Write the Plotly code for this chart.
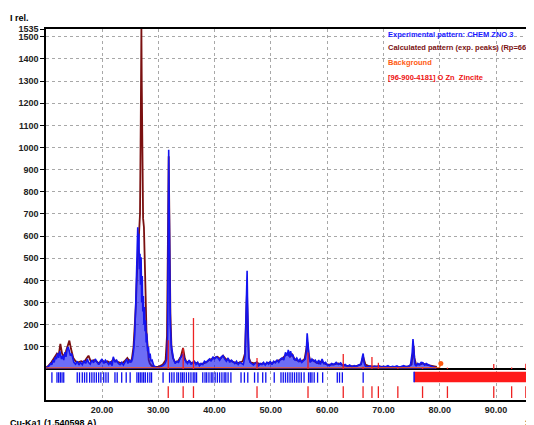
import plotly.graph_objects as go

# ---------------- data ----------------
exp_x = [10.0, 10.3, 10.6, 10.9, 11.1, 11.3, 11.5, 11.7, 11.9, 12.1, 12.3, 12.5, 12.6, 12.8, 13.0, 13.2,
         13.4, 13.6, 13.8, 14.0, 14.2, 14.4, 14.6, 14.8, 15.0, 15.3, 15.6, 15.9, 16.2, 16.5, 16.8,
         17.1, 17.4, 17.6, 17.9, 18.2, 18.5, 18.8, 19.1, 19.4, 19.7, 20.0, 20.3, 20.6, 20.9, 21.2,
         21.5, 21.8, 22.0, 22.3, 22.6, 22.9, 23.2, 23.5, 23.8, 24.1, 24.4, 24.6, 24.9, 25.2, 25.4,
         25.6, 25.8, 26.0, 26.1, 26.2, 26.3, 26.35, 26.45, 26.55, 26.65, 26.75, 26.85, 26.95, 27.05,
         27.15, 27.25, 27.35, 27.45, 27.55, 27.65, 27.75, 27.85, 27.95, 28.1, 28.25, 28.4, 28.55,
         28.7, 28.9, 29.2, 29.6, 30.0, 30.4, 30.8, 31.2, 31.5, 31.65, 31.75, 31.85, 31.95, 32.05,
         32.15, 32.3, 32.5, 32.7, 33.0, 33.3, 33.6, 33.9, 34.2, 34.4, 34.6, 34.9, 35.2, 35.5, 35.8,
         36.1, 36.4, 36.7, 37.0, 37.3, 37.6, 37.9, 38.2, 38.5, 38.8, 39.1, 39.4, 39.7, 40.0, 40.3,
         40.6, 40.9, 41.2, 41.5, 41.8, 42.1, 42.4, 42.7, 43.0, 43.3, 43.6, 43.9, 44.2, 44.5, 44.8,
         45.1, 45.4, 45.6, 45.7, 45.78, 45.86, 45.95, 46.1, 46.3, 46.6, 46.9, 47.2, 47.5, 47.8,
         48.1, 48.4, 48.7, 49.0, 49.3, 49.6, 49.9, 50.2, 50.5, 50.8, 51.1, 51.4, 51.7, 52.0, 52.3,
         52.6, 52.9, 53.1, 53.3, 53.5, 53.7, 53.9, 54.1, 54.3, 54.6, 54.9, 55.2, 55.5, 55.8, 56.1,
         56.3, 56.45, 56.55, 56.65, 56.8, 57.0, 57.3, 57.6, 57.9, 58.2, 58.5, 58.8, 59.1, 59.4,
         59.7, 60.0, 60.4, 60.8, 61.2, 61.6, 62.0, 62.4, 62.8, 63.2, 63.6, 64.0, 64.4, 64.8, 65.2,
         65.6, 66.0, 66.25, 66.4, 66.55, 66.8, 67.2, 67.6, 68.0, 68.4, 68.8, 69.2, 69.6, 70.0, 70.4,
         70.8, 71.2, 71.6, 72.0, 72.4, 72.8, 73.2, 73.6, 74.0, 74.4, 74.8, 75.1, 75.25, 75.35,
         75.45, 75.6, 75.8, 76.1, 76.4, 76.7, 77.0, 77.3, 77.6, 77.9, 78.2, 78.5, 78.8, 79.1, 79.4]
exp_y = [4, 8, 15, 25, 20, 40, 30, 55, 45, 70, 50, 80, 72, 45, 60, 40,
         75, 55, 90, 100, 80, 60, 70, 40, 30, 22, 35, 18, 30, 20, 38,
         25, 45, 30, 22, 40, 28, 45, 30, 20, 35, 45, 25, 40, 30, 20,
         35, 15, 55, 30, 40, 25, 20, 30, 18, 35, 45, 25, 40, 30, 45,
         80, 150, 300, 420, 540, 600, 640, 560, 610, 450, 520, 380, 505, 300,
         420, 260, 330, 200, 280, 170, 220, 120, 160, 80, 100, 50, 70,
         35, 40, 15, 8, 6, 12, 15, 25, 45, 150, 520, 990, 700, 360,
         200, 110, 75, 45, 25, 35, 30, 50, 60, 70, 45, 35, 25, 40, 20,
         30, 35, 20, 30, 15, 25, 20, 35, 30, 40, 45, 35, 55, 45, 55,
         50, 40, 55, 60, 45, 35, 50, 30, 40, 30, 25, 35, 20, 30, 25,
         20, 55, 250, 400, 444, 300, 130, 50, 30, 25, 18, 25, 30, 15,
         25, 20, 30, 18, 30, 22, 35, 20, 35, 28, 40, 30, 45, 50, 40,
         75, 60, 86, 55, 80, 60, 65, 45, 40, 50, 35, 45, 30, 40, 45,
         80, 161, 130, 90, 55, 30, 45, 35, 40, 25, 40, 20, 45, 25,
         30, 20, 15, 25, 20, 30, 20, 28, 15, 20, 12, 18, 10, 15, 12,
         18, 22, 55, 70, 30, 12, 10, 14, 8, 12, 10, 15, 8, 12, 10,
         15, 8, 12, 10, 14, 8, 12, 15, 10, 12, 18, 70, 135, 90,
         40, 20, 15, 25, 20, 30, 28, 18, 25, 20, 15, 12, 10, 8, 4]

calc_x = [10.0, 10.5, 11.0, 11.5, 12.0, 12.3, 12.6, 12.9, 13.2, 13.6, 14.0, 14.2, 14.5, 14.9, 15.3,
          15.8, 16.3, 16.8, 17.3, 17.6, 18.0, 18.5, 19.0, 19.5, 20.0, 20.5, 21.0, 21.5, 22.0,
          22.5, 23.0, 23.5, 24.0, 24.5, 25.0, 25.3, 25.6, 25.8, 26.0, 26.2, 26.4, 26.6, 26.75,
          26.88, 26.95, 27.0, 27.06, 27.15, 27.3, 27.45, 27.6, 27.75, 27.9, 28.1, 28.3, 28.5,
          28.8, 29.2, 30.0, 30.8, 31.3, 31.55, 31.7, 31.85, 32.0, 32.15, 32.35, 32.6, 33.0,
          33.5, 34.0, 34.4, 34.7, 35.0, 35.5, 36.0, 36.5, 37.0, 37.5, 38.0, 38.5, 39.0, 39.5,
          40.0, 40.5, 41.0, 41.5, 42.0, 42.5, 43.0, 43.5, 44.0, 44.5, 45.0, 45.4, 45.6, 45.76,
          45.9, 46.1, 46.4, 47.0, 47.5, 48.0, 48.5, 49.0, 49.5, 50.0, 50.5, 51.0, 51.5, 52.0,
          52.5, 53.0, 53.4, 53.8, 54.2, 54.6, 55.0, 55.5, 56.0, 56.3, 56.5, 56.7, 57.0, 57.5,
          58.0, 58.5, 59.0, 59.5, 60.0, 61.0, 62.0, 63.0, 64.0, 65.0, 66.0, 66.4, 66.8, 67.5,
          68.5, 69.5, 70.5, 71.5, 72.5, 73.5, 74.5, 75.0, 75.2, 75.35, 75.5, 75.8, 76.5, 77.0,
          77.5, 78.5, 79.5]
calc_y = [5, 15, 30, 50, 70, 60, 113, 70, 55, 80, 110, 128, 90, 50, 35,
          30, 35, 30, 50, 60, 35, 40, 35, 25, 40, 30, 35, 25, 45,
          35, 30, 25, 35, 50, 30, 45, 100, 180, 280, 420, 540, 600, 700,
          1100, 1450, 1535, 1300, 900, 680, 640, 520, 330, 170, 80, 40, 25,
          15, 10, 10, 20, 40, 150, 500, 960, 620, 250, 90, 50, 30,
          35, 55, 95, 50, 30, 35, 25, 30, 25, 20, 25, 30, 40, 45,
          50, 55, 45, 60, 45, 40, 35, 30, 25, 30, 35, 70, 250, 350,
          180, 50, 30, 25, 30, 20, 25, 22, 28, 25, 30, 35, 40, 45,
          60, 70, 55, 65, 45, 40, 35, 35, 45, 90, 120, 70, 35, 40,
          30, 25, 35, 25, 20, 20, 25, 15, 15, 12, 20, 55, 20, 12,
          12, 10, 10, 10, 8, 10, 12, 20, 70, 105, 50, 20, 20, 25,
          20, 15, 10]

bg_x = [10.0, 20.0, 30.0, 40.0, 50.0, 60.0, 70.0, 80.0, 80.2]
bg_y = [5, 6, 6, 6, 5, 5, 5, 6, 25]

# Zincite reference reflections (stick heights above axis)
zn_pos = [31.77, 34.42, 36.25, 47.54, 56.60, 62.86, 66.38, 67.96, 69.10, 72.56,
          76.95, 81.37, 89.60, 92.78, 95.30]
zn_int = [130, 95, 230, 50, 75, 68, 10, 54, 28, 6, 6, 6, 22, 7, 24]

# Peak-position markers of the experimental pattern
exp_ticks = [11.1, 12.0, 12.3, 12.6, 12.9, 13.2, 15.6, 16.0, 16.5, 16.9, 17.3, 17.8, 18.2,
             18.6, 19.0, 19.4, 19.8, 20.3, 20.7, 21.1, 22.3, 22.7, 23.5, 24.3, 25.0, 26.2,
             26.5, 26.8, 27.1, 27.4, 27.7, 28.1, 28.5, 28.8, 30.85, 32.0, 32.4, 32.8, 33.3,
             33.6, 34.0, 34.3, 34.6, 35.0, 35.4, 35.8, 36.2, 36.5, 36.8, 37.9, 38.3, 38.6,
             39.0, 39.4, 39.7, 40.1, 40.5, 40.9, 41.3, 41.7, 42.0, 42.4, 42.9, 44.7, 45.3,
             45.9, 47.1, 47.7, 48.55, 49.1, 50.6, 51.8, 52.2, 52.6, 53.0, 53.4, 53.8, 54.2,
             54.6, 55.0, 55.4, 55.9, 56.7, 57.0, 57.3, 57.7, 58.3, 59.2, 61.8, 62.2, 62.7,
             66.4]
band_x = [75.45, 96.75]
band_y = [-13, -60]

# ---------------- figure ----------------
fig = go.Figure()

# tick rows
bx, by = [], []
for p in exp_ticks:
    bx += [p, p, None]
    by += [-15, -62, None]
fig.add_trace(go.Scatter(x=bx, y=by, mode="lines", line=dict(color="#1010ee", width=1.3),
                         hoverinfo="skip", showlegend=False))
fig.add_trace(go.Scatter(x=[band_x[0], band_x[1], band_x[1], band_x[0], band_x[0]],
                         y=[band_y[0], band_y[0], band_y[1], band_y[1], band_y[0]],
                         mode="lines", fill="toself", fillcolor="#ff1a1a",
                         line=dict(color="#ff1a1a", width=0), hoverinfo="skip", showlegend=False))
fig.add_trace(go.Scatter(x=[band_x[0], band_x[0]], y=band_y, mode="lines",
                         line=dict(color="#1010ee", width=1.5), hoverinfo="skip", showlegend=False))
rx, ry = [], []
for p in zn_pos:
    rx += [p, p, None]
    ry += [-78, -131, None]
fig.add_trace(go.Scatter(x=rx, y=ry, mode="lines", line=dict(color="#ee2222", width=1.3),
                         hoverinfo="skip", showlegend=False))

# patterns
fig.add_trace(go.Scatter(x=calc_x, y=calc_y, mode="lines", line=dict(color="#7a1010", width=1.8),
                         hoverinfo="skip", showlegend=False))
fig.add_trace(go.Scatter(x=exp_x, y=exp_y, mode="lines", line=dict(color="#1414f0", width=1.6),
                         fill="tozeroy", fillcolor="rgba(20,20,240,0.62)",
                         hoverinfo="skip", showlegend=False))
fig.add_trace(go.Scatter(x=bg_x, y=bg_y, mode="lines", line=dict(color="#ff5a10", width=1),
                         hoverinfo="skip", showlegend=False))
fig.add_trace(go.Scatter(x=[bg_x[-1]], y=[bg_y[-1]], mode="markers",
                         marker=dict(color="#ff5a10", size=5), hoverinfo="skip", showlegend=False))

# Zincite sticks above axis
sx, sy = [], []
for p, h in zip(zn_pos, zn_int):
    sx += [p, p, None]
    sy += [0, h, None]
fig.add_trace(go.Scatter(x=sx, y=sy, mode="lines", line=dict(color="#ee2222", width=1.3),
                         hoverinfo="skip", showlegend=False))

xt = [20, 30, 40, 50, 60, 70, 80, 90]
yt = [100, 200, 300, 400, 500, 600, 700, 800, 900, 1000, 1100, 1200, 1300, 1400, 1500, 1535]

# page body has an 8px margin: figure sized to end at the window edge
fig.update_layout(
    width=526, height=417,
    margin=dict(l=38, r=0, t=21, b=25),
    plot_bgcolor="white", paper_bgcolor="white",
    font=dict(family="Liberation Sans, Arial, sans-serif", color="black"),
    xaxis=dict(range=[10.05, 96.75], tickvals=xt, ticktext=[f"{v:.2f}" for v in xt],
               showgrid=True, gridcolor="#a8a8a8", griddash="dot", gridwidth=1,
               showline=True, linecolor="black", linewidth=1.5, mirror=True,
               ticks="", zeroline=False,
               tickfont=dict(size=9, weight="bold", color="#222222")),
    yaxis=dict(range=[-140, 1535], tickvals=yt, ticktext=[str(v) for v in yt],
               showgrid=True, gridcolor="#a8a8a8", griddash="dot", gridwidth=1,
               showline=True, linecolor="black", linewidth=1.5, mirror=False,
               ticks="outside", ticklen=4, tickcolor="black",
               zeroline=True, zerolinecolor="black", zerolinewidth=2,
               tickfont=dict(size=9, weight="bold", color="#222222")),
)

# plot area: x from 38 to 526 (488 px), y from 21 to 392 (371 px) in figure coords
def ann(text, x, y, color, size=7.5, anchor="left"):
    fig.add_annotation(text=text, xref="paper", yref="paper", x=x, y=y,
                       xanchor=anchor, yanchor="middle", showarrow=False,
                       font=dict(size=size, color=color, weight="bold",
                                 family="Liberation Sans Narrow, Liberation Sans, Arial, sans-serif"))

ann("Experimental pattern: CHEM ZNO 3", 0.6967, 0.9865, "#1a1aff")
ann("Calculated pattern (exp. peaks) (Rp=66.6 %", 0.6967, 0.9488, "#7a1010")
ann("Background", 0.6967, 0.9084, "#ff5a10")
ann("[96-900-4181] O Zn  Zincite", 0.6967, 0.868, "#ee1111")
ann("I rel.", -0.078, 1.03, "black", size=9)
ann("Cu-Ka1 (1.540598 A)", -0.078, -0.063, "black", size=9)
ann("2th", 0.977, -0.063, "black", size=9)

fig.write_html("out.html")
